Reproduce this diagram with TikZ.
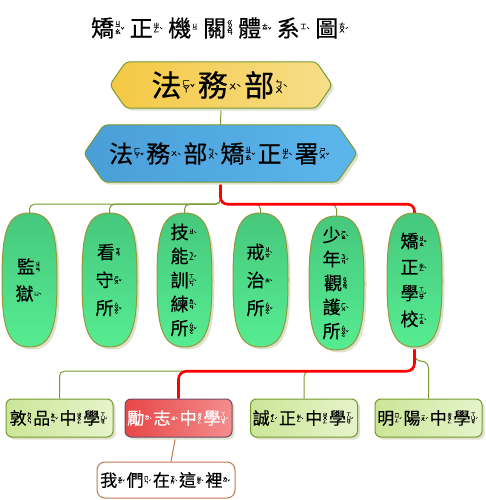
\documentclass[tikz,border=0pt]{standalone}
\usepackage{fontspec}
\setmainfont{Noto Sans CJK TC}[FakeBold=0.5]
\usetikzlibrary{shadows,backgrounds,calc}
\makeatletter
\newcommand\zysize{\fontsize{\dimexpr\f@size pt*26/100\relax}{0pt}\selectfont}
\makeatother
\newcommand\zy[3]{#1\kern.03em\raisebox{.13em}{$\vcenter{\hbox{\zysize\vbox{\offinterlineskip\let\\\cr\halign{\hfil##\hfil\cr#2\crcr}}}}$}\raisebox{.2em}{\zysize#3}\kern.1em}
\definecolor{olive}{RGB}{122,154,48}
\definecolor{ellb}{RGB}{150,150,60}
\definecolor{shadowc}{RGB}{222,226,205}
\definecolor{yelL}{RGB}{244,200,66}
\definecolor{yelR}{RGB}{248,222,138}
\definecolor{bluL}{RGB}{74,158,216}
\definecolor{bluR}{RGB}{92,182,236}
\definecolor{grnT}{RGB}{70,200,125}
\definecolor{grnB}{RGB}{86,236,145}
\definecolor{lgL}{RGB}{203,230,151}
\definecolor{lgR}{RGB}{230,244,203}
\definecolor{redL}{RGB}{232,70,70}
\definecolor{redR}{RGB}{244,142,142}
\definecolor{redb}{RGB}{110,74,110}
\definecolor{brownc}{RGB}{192,120,80}
\tikzset{
  oline/.style={draw=olive, line width=1pt},
  rline/.style={draw=red, line width=2.6pt},
  bline/.style={draw=brownc, line width=1pt},
  shad/.style={drop shadow={shadow xshift=2.5pt, shadow yshift=-2.5pt, fill=shadowc, opacity=1}},
  txt/.style={inner sep=0pt, text=black},
  ellnode/.style={txt, minimum width=55pt, minimum height=134pt, align=center},
  ellshape/.style={draw=ellb, line width=1pt, top color=grnT, bottom color=grnB, shad},
  hexshape/.style={line width=1pt, rounded corners=4pt, shad},
  boxnode/.style={draw=olive, line width=1pt, rounded corners=6pt, left color=lgL, right color=lgR, minimum width=107pt, minimum height=38pt, inner sep=0pt, shad, font=\fontsize{17}{20}\selectfont},
}
\newcommand\hexpath[2]{(#1.west) -- ([xshift=#2]#1.north west) -- ([xshift=-#2]#1.north east) -- (#1.east) -- ([xshift=-#2]#1.south east) -- ([xshift=#2]#1.south west) -- cycle}
\newcommand\barrel[1]{([shift={(0,-67)}]#1.center) .. controls ([shift={(23,-67)}]#1.center) and ([shift={(27.5,-47)}]#1.center) .. ([shift={(27.5,0)}]#1.center) .. controls ([shift={(27.5,42)}]#1.center) and ([shift={(24,67)}]#1.center) .. ([shift={(0,67)}]#1.center) .. controls ([shift={(-24,67)}]#1.center) and ([shift={(-27.5,42)}]#1.center) .. ([shift={(-27.5,0)}]#1.center) .. controls ([shift={(-27.5,-47)}]#1.center) and ([shift={(-23,-67)}]#1.center) .. ([shift={(0,-67)}]#1.center) -- cycle}
\begin{document}
\begin{tikzpicture}[x=1pt, y=-1pt]
\useasboundingbox (0,0) rectangle (485,500);
% title
\node[txt, font=\fontsize{23}{25}\selectfont] (title) at (221,28)
  {\zy{矯}{ㄐ\\ㄧ\\ㄠ}{ˇ}\kern3pt\zy{正}{ㄓ\\ㄥ}{ˋ}\kern3pt\zy{機}{ㄐ\\ㄧ}{}\kern3pt\zy{關}{ㄍ\\ㄨ\\ㄢ}{}\kern3pt\zy{體}{ㄊ\\ㄧ}{ˇ}\kern3pt\zy{系}{ㄒ\\ㄧ}{ˋ}\kern3pt\zy{圖}{ㄊ\\ㄨ}{ˊ}};
% hexagons
\node[txt, minimum width=222pt, minimum height=46pt, font=\fontsize{30}{32}\selectfont] (fwb) at (221,85)
  {\zy{法}{ㄈ\\ㄚ}{ˇ}\zy{務}{ㄨ}{ˋ}\zy{部}{ㄅ\\ㄨ}{ˋ}};
\node[txt, minimum width=273pt, minimum height=57pt, font=\fontsize{24}{26}\selectfont] (jzs) at (220.5,153.5)
  {\zy{法}{ㄈ\\ㄚ}{ˇ}\zy{務}{ㄨ}{ˋ}\zy{部}{ㄅ\\ㄨ}{ˋ}\zy{矯}{ㄐ\\ㄧ\\ㄠ}{ˇ}\zy{正}{ㄓ\\ㄥ}{ˋ}\zy{署}{ㄕ\\ㄨ}{ˇ}};
% ellipses
\node[ellnode, font=\fontsize{18}{27}\selectfont] (e1) at (29.5,280)
  {\zy{監}{ㄐ\\ㄧ\\ㄢ}{}\\\zy{獄}{ㄩ}{ˋ}};
\node[ellnode, font=\fontsize{18}{28}\selectfont] (e2) at (109.5,280)
  {\zy{看}{ㄎ\\ㄢ}{}\\\zy{守}{ㄕ\\ㄡ}{ˇ}\\\zy{所}{ㄙ\\ㄨ\\ㄛ}{ˇ}};
\node[ellnode, font=\fontsize{18}{24}\selectfont] (e3) at (184.5,280)
  {\zy{技}{ㄐ\\ㄧ}{ˋ}\\\zy{能}{ㄋ\\ㄥ}{ˊ}\\\zy{訓}{ㄒ\\ㄩ\\ㄣ}{ˋ}\\\zy{練}{ㄌ\\ㄧ\\ㄢ}{ˋ}\\\zy{所}{ㄙ\\ㄨ\\ㄛ}{ˇ}};
\node[ellnode, font=\fontsize{18}{28}\selectfont] (e4) at (260.5,280)
  {\zy{戒}{ㄐ\\ㄧ\\ㄝ}{ˋ}\\\zy{治}{ㄓ}{ˋ}\\\zy{所}{ㄙ\\ㄨ\\ㄛ}{ˇ}};
\node[ellnode, font=\fontsize{18}{24}\selectfont] (e5) at (336.5,283)
  {\zy{少}{ㄕ\\ㄠ}{ˋ}\\\zy{年}{ㄋ\\ㄧ\\ㄢ}{ˊ}\\\zy{觀}{ㄍ\\ㄨ\\ㄢ}{}\\\zy{護}{ㄏ\\ㄨ}{ˋ}\\\zy{所}{ㄙ\\ㄨ\\ㄛ}{ˇ}};
\node[ellnode, font=\fontsize{18}{26}\selectfont] (e6) at (414.5,280)
  {\zy{矯}{ㄐ\\ㄧ\\ㄠ}{ˇ}\\\zy{正}{ㄓ\\ㄥ}{ˋ}\\\zy{學}{ㄒ\\ㄩ\\ㄝ}{ˊ}\\\zy{校}{ㄒ\\ㄧ\\ㄠ}{ˋ}};
% bottom boxes
\node[boxnode] (b1) at (59.5,418)
  {\zy{敦}{ㄉ\\ㄨ\\ㄣ}{}\zy{品}{ㄆ\\ㄧ\\ㄣ}{ˇ}\zy{中}{ㄓ\\ㄨ\\ㄥ}{}\zy{學}{ㄒ\\ㄩ\\ㄝ}{ˊ}};
\node[boxnode, draw=redb, left color=redL, right color=redR, text=white] (b2) at (178.5,418)
  {\zy{勵}{ㄌ\\ㄧ}{ˋ}\zy{志}{ㄓ}{ˋ}\zy{中}{ㄓ\\ㄨ\\ㄥ}{}\zy{學}{ㄒ\\ㄩ\\ㄝ}{ˊ}};
\node[boxnode] (b3) at (304,418)
  {\zy{誠}{ㄔ\\ㄥ}{ˊ}\zy{正}{ㄓ\\ㄥ}{ˋ}\zy{中}{ㄓ\\ㄨ\\ㄥ}{}\zy{學}{ㄒ\\ㄩ\\ㄝ}{ˊ}};
\node[boxnode] (b4) at (428.5,418)
  {\zy{明}{ㄇ\\ㄧ\\ㄥ}{ˊ}\zy{陽}{ㄧ\\ㄤ}{ˊ}\zy{中}{ㄓ\\ㄨ\\ㄥ}{}\zy{學}{ㄒ\\ㄩ\\ㄝ}{ˊ}};
\node[draw=brownc, line width=1pt, rounded corners=8pt, fill=white, minimum width=138pt, minimum height=36pt, inner sep=0pt, font=\fontsize{17}{20}\selectfont] (we) at (166,480)
  {\zy{我}{ㄨ\\ㄛ}{ˇ}\zy{們}{ㄇ\\ㄣ}{ˊ}\zy{在}{ㄗ\\ㄞ}{ˋ}\zy{這}{ㄓ\\ㄜ}{ˋ}\zy{裡}{ㄌ\\ㄧ}{ˇ}};
% connectors and shapes in background
\begin{pgfonlayer}{background}
  \draw[oline] (fwb.south) -- (jzs.north);
  \foreach \e in {e1,e2,e3,e4,e5}
    \draw[oline, rounded corners=5pt] (jzs.south) -- ++(0,22) -| (\e.north);
  \draw[rline, rounded corners=7pt] (jzs.south) -- ++(0,22) -| (e6.north);
  \draw[oline, rounded corners=5pt] (e6.south) -- ++(0,24) -| (b1.north);
  \draw[oline, rounded corners=5pt] (e6.south) -- ++(0,24) -| (b3.north);
  \draw[oline, rounded corners=7pt] (e6.south) -- ++(0,14) -| (b4.north);
  \draw[rline, rounded corners=8pt] (e6.south) -- ++(0,24) -| (b2.north);
  \draw[bline] ([xshift=-3pt]b2.south) -- ([xshift=5pt]we.north);
  \path[hexshape, draw=olive, left color=yelL, right color=yelR] \hexpath{fwb}{16pt};
  \path[hexshape, draw=olive, left color=bluL, right color=bluR] \hexpath{jzs}{20pt};
  \foreach \e in {e1,e2,e3,e4,e5,e6}
    \path[ellshape] \barrel{\e};
\end{pgfonlayer}
\end{tikzpicture}
\end{document}
